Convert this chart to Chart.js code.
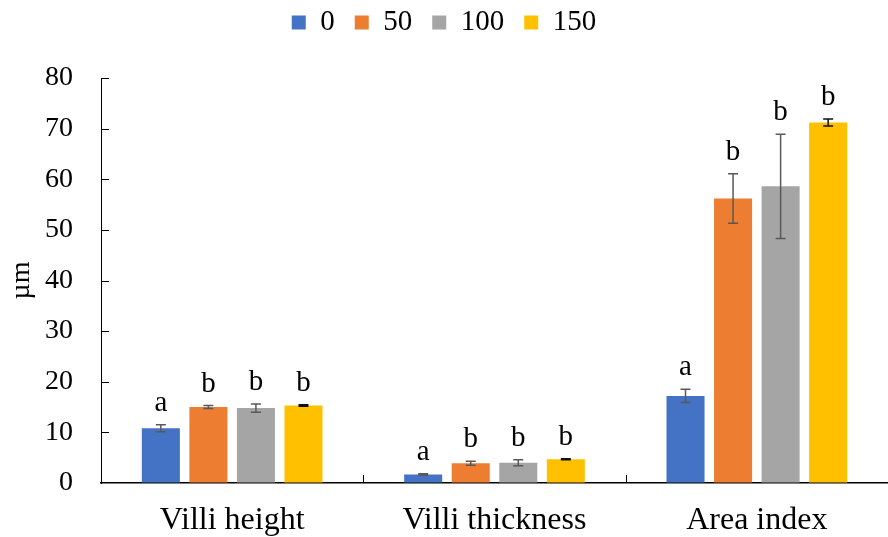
<!DOCTYPE html>
<html>
<head>
<meta charset="utf-8">
<script src="https://cdn.jsdelivr.net/npm/chart.js@4"></script>
<style>
  html, body { margin: 0; padding: 0; background: #fff; }
  #wrap { width: 888px; height: 537px; }
</style>
</head>
<body>
<div id="wrap"><canvas id="villiChart" width="888" height="537"></canvas></div>
<script>
// grouped bars with error bars and significance letters
const categories = ["Villi height", "Villi thickness", "Area index"];
const seriesLabels = ["0", "50", "100", "150"];

const values0 = [10.8, 1.7, 17.2];
const values50 = [15.0, 3.9, 56.2];
const values100 = [14.8, 4.0, 58.6];
const values150 = [15.3, 4.7, 71.2];

const errors0 = [0.7, 0.15, 1.3];
const errors50 = [0.3, 0.4, 4.9];
const errors100 = [0.8, 0.6, 10.3];
const errors150 = [0.15, 0.1, 0.7];

const letters0 = ["a", "a", "a"];
const letters50 = ["b", "b", "b"];
const letters100 = ["b", "b", "b"];
const letters150 = ["b", "b", "b"];

const yTicks = [0, 10, 20, 30, 40, 50, 60, 70, 80];

const FONT = "'Liberation Serif', 'Times New Roman', serif";
const colors = ["#4472C4", "#ED7D31", "#A5A5A5", "#FFC000"];
const errColors = ["#595959", "#595959", "#595959", "#111"];

const allValues = [values0, values50, values100, values150];
const allErrors = [errors0, errors50, errors100, errors150];
const allLetters = [letters0, letters50, letters100, letters150];

// error bars + letters on top of each bar
const errorBarPlugin = {
  id: "errorBars",
  afterDatasetsDraw(chart) {
    const ctx = chart.ctx;
    const y = chart.scales.y;
    chart.data.datasets.forEach((ds, i) => {
      const meta = chart.getDatasetMeta(i);
      meta.data.forEach((bar, j) => {
        const v = allValues[i][j], e = allErrors[i][j];
        const top = y.getPixelForValue(v + e);
        const bot = y.getPixelForValue(v - e);
        ctx.save();
        ctx.strokeStyle = errColors[i];
        ctx.lineWidth = 1.5;
        ctx.beginPath();
        ctx.moveTo(bar.x, top); ctx.lineTo(bar.x, bot);
        ctx.moveTo(bar.x - 5, top); ctx.lineTo(bar.x + 5, top);
        ctx.moveTo(bar.x - 5, bot); ctx.lineTo(bar.x + 5, bot);
        ctx.stroke();
        ctx.fillStyle = "#000";
        ctx.font = "29px " + FONT;
        ctx.textAlign = "center";
        ctx.textBaseline = "alphabetic";
        ctx.fillText(allLetters[i][j], bar.x, Math.min(top, y.getPixelForValue(v)) - 14);
        ctx.restore();
      });
    });
  }
};

// ticks pointing into the plot area
const innerTicksPlugin = {
  id: "innerTicks",
  afterDraw(chart) {
    const ctx = chart.ctx;
    const { x, y } = chart.scales;
    const area = chart.chartArea;
    ctx.save();
    ctx.strokeStyle = "#000";
    ctx.lineWidth = 1;
    ctx.beginPath();
    yTicks.forEach(t => {
      if (t === 0) return;
      const py = Math.round(y.getPixelForValue(t)) + 0.5;
      ctx.moveTo(area.left, py); ctx.lineTo(area.left + 8, py);
    });
    for (let i = 0; i < categories.length - 1; i++) {
      const px = Math.round((x.getPixelForValue(i) + x.getPixelForValue(i + 1)) / 2) + 0.5;
      ctx.moveTo(px, area.bottom); ctx.lineTo(px, area.bottom - 8);
    }
    ctx.stroke();
    ctx.restore();
  }
};

// legend box fixed so plot top lands at y=78
const legendHeight = {
  id: "legendHeight",
  beforeInit(chart) {
    const fit = chart.legend.fit;
    chart.legend.fit = function () {
      fit.bind(chart.legend)();
      this.height = 90;
    };
  }
};

new Chart(document.getElementById("villiChart"), {
  type: "bar",
  data: {
    labels: categories,
    datasets: seriesLabels.map((lab, i) => ({
      label: lab,
      data: allValues[i],
      backgroundColor: colors[i],
      barPercentage: 0.8,
      categoryPercentage: 0.725
    }))
  },
  options: {
    responsive: false,
    animation: false,
    layout: { padding: { top: -12, right: 0, bottom: 0, left: 0 } },
    plugins: {
      legend: {
        position: "top",
        labels: {
          boxWidth: 14, boxHeight: 14, padding: 20,
          color: "#000",
          font: { family: FONT, size: 29 }
        }
      },
      tooltip: { enabled: false }
    },
    scales: {
      x: {
        grid: { drawOnChartArea: false, drawTicks: false },
        border: { display: true, color: "#000", width: 1.5 },
        ticks: { color: "#000", padding: 18, font: { family: FONT, size: 32 } },
        afterFit: s => { s.height = 54; }
      },
      y: {
        min: 0, max: 80,
        afterBuildTicks: s => { s.ticks = yTicks.map(v => ({ value: v })); },
        grid: { drawOnChartArea: false, drawTicks: false },
        border: { display: true, color: "#000", width: 1 },
        ticks: { color: "#000", padding: 28, font: { family: FONT, size: 28 } },
        title: { display: true, text: "µm", color: "#000", padding: 5, font: { family: FONT, size: 28 } },
        afterFit: s => { s.width = 101; }
      }
    }
  },
  plugins: [errorBarPlugin, innerTicksPlugin, legendHeight]
});
</script>
</body>
</html>
